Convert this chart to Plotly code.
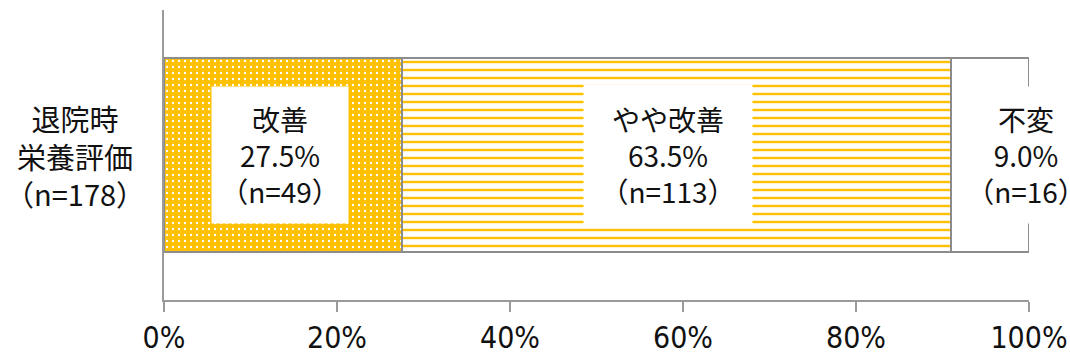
import plotly.graph_objects as go

category = "退院時<br>栄養評価<br>（n=178）"
labels = ["改善", "やや改善", "不変"]
percents = [27.5, 63.5, 9.0]
counts = [49, 113, 16]
tick_values = [0, 20, 40, 60, 80, 100]
tick_labels = ["0%", "20%", "40%", "60%", "80%", "100%"]

YELLOW = "#FFC000"
EDGE = "#8C8C8C"
JP = "Noto Sans CJK JP"

patterns = [
    dict(shape=".", fgcolor="white", fgopacity=1, size=6, solidity=0.12),
    dict(shape="-", fgcolor=YELLOW, fgopacity=1, size=8, solidity=0.3),
    dict(shape="", fgcolor="white"),
]
colors = [YELLOW, "white", "white"]

fig = go.Figure()
for lab, p, c, pat in zip(labels, percents, colors, patterns):
    fig.add_trace(go.Bar(
        x=[p], y=[category], orientation="h", name=lab,
        marker=dict(color=c, line=dict(color=EDGE, width=2), pattern=pat),
        showlegend=False, hoverinfo="skip",
    ))

# box geometry per segment (style only)
box_w = [136, 168, 130]
box_h = [136, 140, 136]
shifts = [-3, -9, 36]
start = 0
for lab, p, n, w, h, s in zip(labels, percents, counts, box_w, box_h, shifts):
    fig.add_annotation(
        x=start + p / 2, y=category, xref="x", yref="y",
        text=f"{lab}<br>{p:.1f}%<br>（n={n}）",
        showarrow=False, bgcolor="white", width=w, height=h,
        xshift=s, borderpad=0, align="center", valign="middle",
        font=dict(family=JP, size=28, color="#111111"),
    )
    start += p

fig.add_annotation(
    x=-0.103, y=category, xref="paper", yref="y", text=category,
    showarrow=False, align="center", xanchor="center",
    font=dict(family=JP, size=29, color="#111111"),
)

fig.update_layout(
    barmode="stack", bargap=0.33,
    width=1070, height=358,
    margin=dict(l=164, r=41, t=10, b=58, autoexpand=False),
    plot_bgcolor="white", paper_bgcolor="white",
    xaxis=dict(
        range=[0, 100], tickvals=tick_values, ticktext=tick_labels,
        showline=True, linecolor="#9A9A9A", linewidth=2, automargin=False,
        ticks="outside", ticklen=10, tickwidth=2, tickcolor="#9A9A9A",
        showgrid=False, zeroline=False,
        tickfont=dict(family="DejaVu Sans Condensed, Liberation Sans Narrow, Liberation Sans", size=30, color="#111111"),
    ),
    yaxis=dict(
        showticklabels=False, showline=True, linecolor="#9A9A9A", linewidth=2,
        showgrid=False, zeroline=False, ticks="", automargin=False,
    ),
)

fig.write_html(
    "out.html",
    config={"displayModeBar": False},
    post_script="document.body.style.margin='0';document.body.style.overflow='hidden';",
)
